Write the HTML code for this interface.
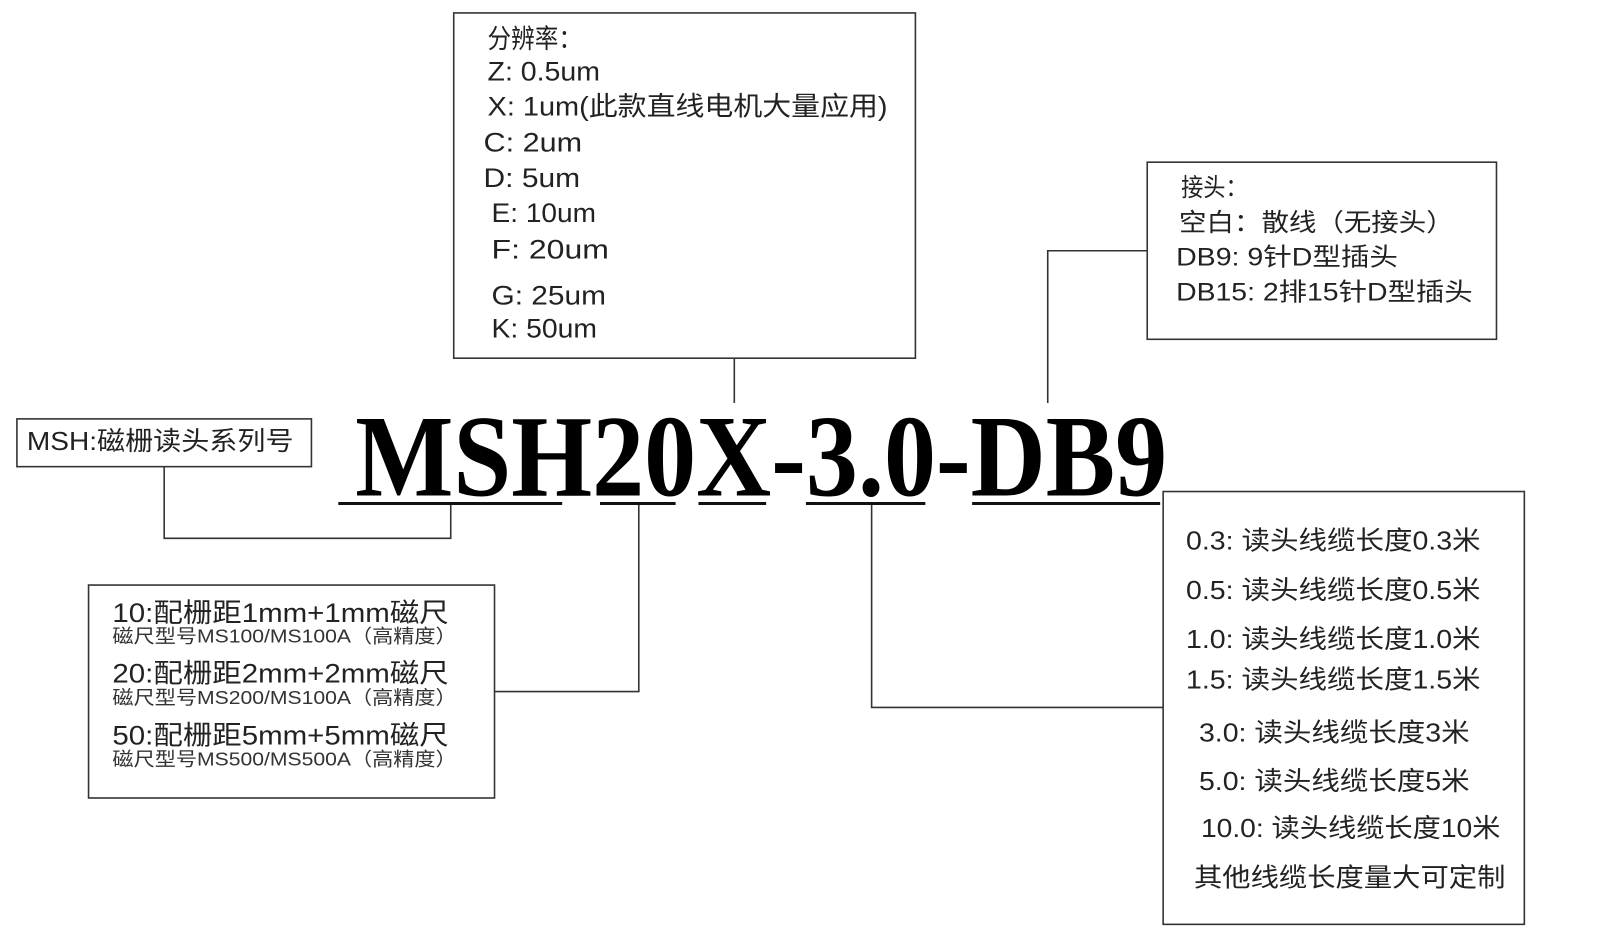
<!DOCTYPE html>
<html><head><meta charset="utf-8"><style>
html,body{margin:0;padding:0;background:#fff;}
svg{display:block;}
text{font-family:"Liberation Sans","Noto Sans CJK SC",sans-serif;fill:#222;dominant-baseline:central;}
.b{font-size:27px;}
.s{font-size:19px;fill:#333;}
</style></head><body>
<svg width="1600" height="951" viewBox="0 0 1600 951" xmlns="http://www.w3.org/2000/svg">
<g transform="scale(0.995)">
<g fill="none" stroke="#333" stroke-width="1.6">
<rect x="456" y="13" width="464" height="347"/>
<rect x="1153" y="163" width="351" height="178"/>
<rect x="17" y="421" width="296" height="48"/>
<rect x="89" y="588" width="408" height="214"/>
<rect x="1169" y="494" width="363" height="435"/>
<polyline points="738,360 738,405"/>
<polyline points="1153,252 1053,252 1053,405"/>
<polyline points="165,469 165,541 453,541 453,506"/>
<polyline points="642,506 642,695 497,695"/>
<polyline points="876,506 876,711 1169,711"/>
</g>
<g stroke="#111" stroke-width="3">
<line x1="340" y1="506" x2="565" y2="506"/>
<line x1="603" y1="506" x2="679" y2="506"/>
<line x1="702" y1="506" x2="770" y2="506"/>
<line x1="810" y1="506" x2="930" y2="506"/>
<line x1="977" y1="506" x2="1166" y2="506"/>
</g>
<text x="357" y="498" style="font-family:'Liberation Serif',serif;font-weight:bold;font-size:117px;dominant-baseline:alphabetic;fill:#000" textLength="816" lengthAdjust="spacingAndGlyphs">MSH20X-3.0-DB9</text>

<g lengthAdjust="spacingAndGlyphs">
<text class="b" x="490" y="39" textLength="95" lengthAdjust="spacingAndGlyphs">分辨率：</text>
<text class="b" x="490" y="72" textLength="113" lengthAdjust="spacingAndGlyphs">Z: 0.5um</text>
<text class="b" x="490" y="107" textLength="402" lengthAdjust="spacingAndGlyphs">X: 1um(此款直线电机大量应用)</text>
<text class="b" x="486" y="143" textLength="99" lengthAdjust="spacingAndGlyphs">C: 2um</text>
<text class="b" x="486" y="179" textLength="97" lengthAdjust="spacingAndGlyphs">D: 5um</text>
<text class="b" x="494" y="214" textLength="105" lengthAdjust="spacingAndGlyphs">E: 10um</text>
<text class="b" x="494" y="251" textLength="118" lengthAdjust="spacingAndGlyphs">F: 20um</text>
<text class="b" x="494" y="297" textLength="115" lengthAdjust="spacingAndGlyphs">G: 25um</text>
<text class="b" x="494" y="330" textLength="106" lengthAdjust="spacingAndGlyphs">K: 50um</text>

<text class="b" x="1187" y="189" style="font-size:25px" textLength="67" lengthAdjust="spacingAndGlyphs">接头：</text>
<text class="b" x="1185" y="224" style="font-size:25px" textLength="276" lengthAdjust="spacingAndGlyphs">空白：散线（无接头）</text>
<text class="b" x="1182" y="259" style="font-size:25px" textLength="223" lengthAdjust="spacingAndGlyphs">DB9: 9针D型插头</text>
<text class="b" x="1182" y="294" style="font-size:25px" textLength="298" lengthAdjust="spacingAndGlyphs">DB15: 2排15针D型插头</text>

<text class="b" x="27" y="444" style="font-size:26px" textLength="268" lengthAdjust="spacingAndGlyphs">MSH:磁栅读头系列号</text>

<text class="b" x="113" y="616" textLength="338" lengthAdjust="spacingAndGlyphs">10:配栅距1mm+1mm磁尺</text>
<text class="s" x="113" y="640" textLength="346" lengthAdjust="spacingAndGlyphs">磁尺型号MS100/MS100A（高精度）</text>
<text class="b" x="113" y="677" textLength="338" lengthAdjust="spacingAndGlyphs">20:配栅距2mm+2mm磁尺</text>
<text class="s" x="113" y="702" textLength="346" lengthAdjust="spacingAndGlyphs">磁尺型号MS200/MS100A（高精度）</text>
<text class="b" x="113" y="739" textLength="338" lengthAdjust="spacingAndGlyphs">50:配栅距5mm+5mm磁尺</text>
<text class="s" x="113" y="764" textLength="346" lengthAdjust="spacingAndGlyphs">磁尺型号MS500/MS500A（高精度）</text>

<text class="b" x="1192" y="544" style="font-size:26px" textLength="296" lengthAdjust="spacingAndGlyphs">0.3: 读头线缆长度0.3米</text>
<text class="b" x="1192" y="594" style="font-size:26px" textLength="296" lengthAdjust="spacingAndGlyphs">0.5: 读头线缆长度0.5米</text>
<text class="b" x="1192" y="643" style="font-size:26px" textLength="296" lengthAdjust="spacingAndGlyphs">1.0: 读头线缆长度1.0米</text>
<text class="b" x="1192" y="684" style="font-size:26px" textLength="296" lengthAdjust="spacingAndGlyphs">1.5: 读头线缆长度1.5米</text>
<text class="b" x="1205" y="737" style="font-size:26px" textLength="272" lengthAdjust="spacingAndGlyphs">3.0: 读头线缆长度3米</text>
<text class="b" x="1205" y="786" style="font-size:26px" textLength="272" lengthAdjust="spacingAndGlyphs">5.0: 读头线缆长度5米</text>
<text class="b" x="1207" y="833" style="font-size:26px" textLength="301" lengthAdjust="spacingAndGlyphs">10.0: 读头线缆长度10米</text>
<text class="b" x="1200" y="883" style="font-size:26px" textLength="313" lengthAdjust="spacingAndGlyphs">其他线缆长度量大可定制</text>
</g>
</g>
</svg>
</body></html>
